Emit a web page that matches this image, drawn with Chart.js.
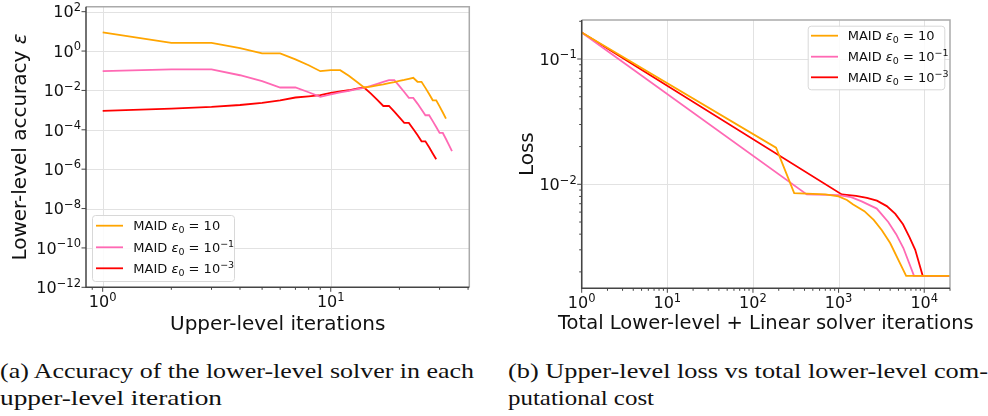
<!DOCTYPE html>
<html>
<head>
<meta charset="utf-8">
<script src="https://cdn.jsdelivr.net/npm/chart.js@4.4.0/dist/chart.umd.min.js"></script>
<style>
  body { margin: 0; background: #fff; }
  #fig { position: relative; width: 988px; height: 416px; overflow: hidden; background: #fff; }
  .panel { position: absolute; top: 0; }
  .cap { position: absolute; font-family: "Liberation Serif", serif; font-size: 21px; line-height: 27px;
         color: #111; white-space: nowrap; transform-origin: 0 0; }
</style>
</head>
<body>
<div id="fig">
  <canvas id="acc" class="panel" width="480" height="340" style="left:0"></canvas>
  <canvas id="loss" class="panel" width="494" height="340" style="left:494px"></canvas>
  <div class="cap" data-w="474" style="left:0;top:358px">(a) Accuracy of the lower-level solver in each</div>
  <div class="cap" data-w="222" style="left:0;top:385px">upper-level iteration</div>
  <div class="cap" data-w="480" style="left:508px;top:358px">(b) Upper-level loss vs total lower-level com-</div>
  <div class="cap" data-w="146" style="left:508px;top:385px">putational cost</div>
</div>
<script>
// (a) lower-level accuracy per upper-level iteration
const iterations = [1, 2, 3, 4, 5, 6, 7, 8, 9, 10, 11, 12, 13, 14, 15, 16, 17,
  18, 19, 20, 21, 22, 23, 24, 25, 26, 27, 28, 29, 30, 31, 32, 33, 34];
const accEps10 = [8.9, 2.63, 2.63, 1.4, 0.76, 0.76, 0.38, 0.19, 0.095, 0.107, 0.107,
  0.055, 0.0275, 0.0141, 0.0158, 0.0182, 0.0204, 0.0234, 0.0263, 0.0302, 0.0339,
  0.0389, 0.0437, 0.0275, 0.0275, 0.0135, 0.0066, 0.00316, 0.00316, 0.00155,
  7.6e-4, 3.7e-4];
const accEps1 = [0.095, 0.117, 0.117, 0.059, 0.0295, 0.0141, 0.0141, 0.0081, 0.0047,
  0.0063, 0.0079, 0.0095, 0.0117, 0.0135, 0.017, 0.0214, 0.0269, 0.0331, 0.0331,
  0.0166, 0.0083, 0.0042, 0.0042, 0.00214, 0.00107, 5.5e-4, 5.5e-4, 2.75e-4,
  1.38e-4, 6.9e-5, 6.9e-5, 3.4e-5, 1.66e-5, 8.3e-6];
const accEps3 = [9.1e-4, 1.2e-3, 1.45e-3, 1.82e-3, 2.34e-3, 3.16e-3, 4.37e-3, 5.0e-3,
  5.75e-3, 7.6e-3, 8.9e-3, 1.02e-2, 1.23e-2, 1.41e-2, 6.9e-3, 3.3e-3, 1.62e-3,
  1.62e-3, 8.3e-4, 4.3e-4, 2.24e-4, 2.24e-4, 1.1e-4, 5.4e-5, 2.6e-5, 2.6e-5,
  1.29e-5, 6.3e-6, 3.2e-6];

// (b) upper-level loss against cumulative lower-level + linear solver cost
const costEps10 = [1, 186, 303, 700, 1000, 1250, 1480, 2000, 2570, 3200, 4000, 6150, 20000];
const lossEps10 = [0.163, 0.0196, 0.0085, 0.0083, 0.0080, 0.0075, 0.0069, 0.0061, 0.0052, 0.0043, 0.0034, 0.00186, 0.00186];
const costEps1 = [1, 425, 1000, 1400, 1860, 2790, 3800, 4700, 5710, 7600, 20000];
const lossEps1 = [0.163, 0.0083, 0.0082, 0.0079, 0.0073, 0.0064, 0.0050, 0.0040, 0.0031, 0.00186, 0.00186];
const costEps3 = [1, 1090, 1600, 2140, 2800, 3650, 4600, 5650, 6700, 7850, 9600, 20000];
const lossEps3 = [0.163, 0.0083, 0.0081, 0.0078, 0.0074, 0.0067, 0.0058, 0.0048, 0.0038, 0.0030, 0.00186, 0.00186];

const legendExps = ['', '\u22121', '\u22123'];
const ORANGE = '#ffa500', PINK = '#ff69b4', RED = '#ff0000';
const colors = [ORANGE, PINK, RED];

const FONT = '"DejaVu Sans", sans-serif';
const MINUS = '\u2212';

function series(xs, ys) {
  return ys.map((y, i) => ({ x: xs[i], y: y }));
}

function decades(from, to) {
  const out = [];
  for (let e = from; e <= to; e++) {
    for (let k = 2; k <= 9; k++) out.push(k * Math.pow(10, e));
  }
  return out;
}

// draw a run of text pieces, each with its own font and vertical shift
function drawRuns(ctx, runs, x, y) {
  let cx = x;
  runs.forEach(r => {
    ctx.font = r.f;
    ctx.fillText(r.t, cx, y + (r.dy || 0));
    cx += ctx.measureText(r.t).width;
  });
}
function runsWidth(ctx, runs) {
  let w = 0;
  runs.forEach(r => { ctx.font = r.f; w += ctx.measureText(r.t).width; });
  return w;
}

function powRuns(exp) {
  return [{ t: '10', f: '16px ' + FONT }, { t: exp, f: '11.5px ' + FONT, dy: -6.5 }];
}

function legendRuns(exp) {
  const runs = [
    { t: 'MAID ', f: '13px ' + FONT },
    { t: '\u03b5', f: 'italic 13px ' + FONT },
    { t: '0', f: '9.5px ' + FONT, dy: 2.5 },
    { t: ' = 10', f: '13px ' + FONT }
  ];
  if (exp) runs.push({ t: exp, f: '9.5px ' + FONT, dy: -5 });
  return runs;
}

function decorPlugin(cfg) {
  return {
    id: 'decor',
    beforeDatasetsDraw(chart) {
      const { ctx, chartArea: a, scales: { x, y } } = chart;
      ctx.save();
      ctx.strokeStyle = '#e2e2e2';
      ctx.lineWidth = 1;
      ctx.beginPath();
      cfg.xMajor.forEach(v => {
        const px = Math.round(x.getPixelForValue(v)) + 0.5;
        if (px < a.left || px > a.right) return;
        ctx.moveTo(px, a.top); ctx.lineTo(px, a.bottom);
      });
      cfg.yMajor.forEach(v => {
        const py = Math.round(y.getPixelForValue(v)) + 0.5;
        if (py < a.top || py > a.bottom) return;
        ctx.moveTo(a.left, py); ctx.lineTo(a.right, py);
      });
      ctx.stroke();
      ctx.restore();
    },
    afterDraw(chart) {
      const { ctx, chartArea: a, scales: { x, y } } = chart;
      ctx.save();

      // frame
      ctx.lineWidth = 1.5;
      ctx.strokeStyle = '#aaaaaa';
      ctx.beginPath();
      ctx.moveTo(a.left, a.top); ctx.lineTo(a.right, a.top); ctx.lineTo(a.right, a.bottom);
      ctx.stroke();
      ctx.strokeStyle = '#444444';
      ctx.beginPath();
      ctx.moveTo(a.left, a.top); ctx.lineTo(a.left, a.bottom); ctx.lineTo(a.right, a.bottom);
      ctx.stroke();

      // tick marks
      ctx.lineWidth = 1;
      ctx.strokeStyle = '#444444';
      ctx.beginPath();
      const xt = (v, len) => {
        const px = x.getPixelForValue(v);
        if (px < a.left - 0.5 || px > a.right + 0.5) return;
        ctx.moveTo(px, a.bottom); ctx.lineTo(px, a.bottom + len);
      };
      const yt = (v, len) => {
        const py = y.getPixelForValue(v);
        if (py < a.top - 0.5 || py > a.bottom + 0.5) return;
        ctx.moveTo(a.left, py); ctx.lineTo(a.left - len, py);
      };
      cfg.xMajor.forEach(v => xt(v, 4.5));
      cfg.xMinor.forEach(v => xt(v, 2.5));
      cfg.yMajor.forEach(v => yt(v, 4.5));
      cfg.yMinor.forEach(v => yt(v, 2.5));
      ctx.stroke();

      // tick labels
      ctx.fillStyle = '#111';
      ctx.textAlign = 'left';
      ctx.textBaseline = 'alphabetic';
      cfg.xMajor.forEach((v, i) => {
        const runs = powRuns(cfg.xExp[i]);
        const w = runsWidth(ctx, runs);
        drawRuns(ctx, runs, x.getPixelForValue(v) - w / 2, a.bottom + 20);
      });
      cfg.yMajor.forEach((v, i) => {
        const runs = powRuns(cfg.yExp[i]);
        const w = runsWidth(ctx, runs);
        drawRuns(ctx, runs, a.left - 5 - w, y.getPixelForValue(v) + 5.8);
      });

      // axis titles
      const xr = cfg.xTitle;
      const xw = runsWidth(ctx, xr);
      drawRuns(ctx, xr, (a.left + a.right) / 2 - xw / 2, cfg.xTitleY);
      const yr = cfg.yTitle;
      const yw = runsWidth(ctx, yr);
      ctx.save();
      ctx.translate(cfg.yTitleX, (a.top + a.bottom) / 2);
      ctx.rotate(-Math.PI / 2);
      drawRuns(ctx, yr, -yw / 2, 0);
      ctx.restore();

      // legend
      const L = cfg.legend;
      ctx.fillStyle = 'rgba(255,255,255,0.85)';
      ctx.strokeStyle = '#d8d8d8';
      ctx.lineWidth = 1;
      ctx.beginPath();
      ctx.roundRect(L.x + 0.5, L.y + 0.5, L.w, L.h, 3);
      ctx.fill();
      ctx.stroke();
      chart.data.datasets.forEach((ds, i) => {
        const ry = L.rows[i];
        ctx.strokeStyle = ds.borderColor;
        ctx.lineWidth = 1.8;
        ctx.beginPath();
        ctx.moveTo(L.sx, ry); ctx.lineTo(L.sx + 27, ry);
        ctx.stroke();
        ctx.fillStyle = '#111';
        drawRuns(ctx, legendRuns(legendExps[i]), L.tx, ry + 4.7);
      });

      ctx.restore();
    }
  };
}

function baseOptions(xMin, xMax, yMin, yMax, pad, xH, yW) {
  return {
    responsive: false,
    animation: false,
    devicePixelRatio: 1,
    layout: { padding: pad },
    plugins: { legend: { display: false }, tooltip: { enabled: false } },
    elements: { point: { radius: 0 }, line: { borderWidth: 1.8, tension: 0 } },
    scales: {
      x: {
        type: 'logarithmic', min: xMin, max: xMax,
        grid: { display: false }, border: { display: false }, ticks: { display: false },
        afterFit(s) { s.height = xH; }
      },
      y: {
        type: 'logarithmic', min: yMin, max: yMax,
        grid: { display: false }, border: { display: false }, ticks: { display: false },
        afterFit(s) { s.width = yW; }
      }
    }
  };
}

function makeSets(pairs) {
  return pairs.map((p, i) => ({
    label: 'MAID eps0 ' + i,
    data: series(p[0], p[1]),
    borderColor: colors[i],
    backgroundColor: colors[i],
    fill: false
  }));
}

const yLeftMajor = [1e2, 1, 1e-2, 1e-4, 1e-6, 1e-8, 1e-10, 1e-12];

new Chart(document.getElementById('acc'), {
  type: 'line',
  data: {
    datasets: makeSets([[iterations, accEps10], [iterations, accEps1], [iterations, accEps3]])
  },
  options: baseOptions(0.845, 40.5, 1e-12, 179, { top: 6.7, right: 10.7, left: 0, bottom: 0 }, 52.7, 86),
  plugins: [decorPlugin({
    xMajor: [1, 10], xExp: ['0', '1'],
    xMinor: [0.9, 2, 3, 4, 5, 6, 7, 8, 9, 20, 30, 40],
    yMajor: yLeftMajor,
    yExp: ['2', '0', MINUS + '2', MINUS + '4', MINUS + '6', MINUS + '8', MINUS + '10', MINUS + '12'],
    yMinor: [],
    xTitle: [{ t: 'Upper-level iterations', f: '20px ' + FONT }],
    xTitleY: 330,
    yTitle: [{ t: 'Lower-level accuracy ', f: '20px ' + FONT }, { t: '\u03b5', f: 'italic 20px ' + FONT }],
    yTitleX: 26,
    legend: { x: 92, y: 215, w: 142, h: 66, rows: [225.7, 247.3, 268.3], sx: 96, tx: 133.3 }
  })]
});

new Chart(document.getElementById('loss'), {
  type: 'line',
  data: {
    datasets: makeSets([[costEps10, lossEps10], [costEps1, lossEps1], [costEps3, lossEps3]])
  },
  options: baseOptions(1, 20000, 0.001479, 0.2048, { top: 20, right: 38, left: 0, bottom: 0 }, 51.7, 87.7),
  plugins: [decorPlugin({
    xMajor: [1, 10, 100, 1000, 10000], xExp: ['0', '1', '2', '3', '4'],
    xMinor: decades(0, 4),
    yMajor: [0.1, 0.01], yExp: [MINUS + '1', MINUS + '2'],
    yMinor: decades(-3, -1),
    xTitle: [{ t: 'Total Lower-level + Linear solver iterations', f: '19.5px ' + FONT }],
    xTitleY: 329,
    yTitle: [{ t: 'Loss', f: '20px ' + FONT }],
    yTitleX: 39,
    legend: { x: 313.7, y: 25.7, w: 136.6, h: 63.6, rows: [35.7, 56.7, 77.3], sx: 317, tx: 353.7 }
  })]
});

// stretch each caption line to its set width (the serif face here runs narrow)
document.querySelectorAll('.cap').forEach(el => {
  const w = el.getBoundingClientRect().width;
  el.style.transform = 'scaleX(' + (Number(el.dataset.w) / w) + ')';
});
</script>
</body>
</html>
